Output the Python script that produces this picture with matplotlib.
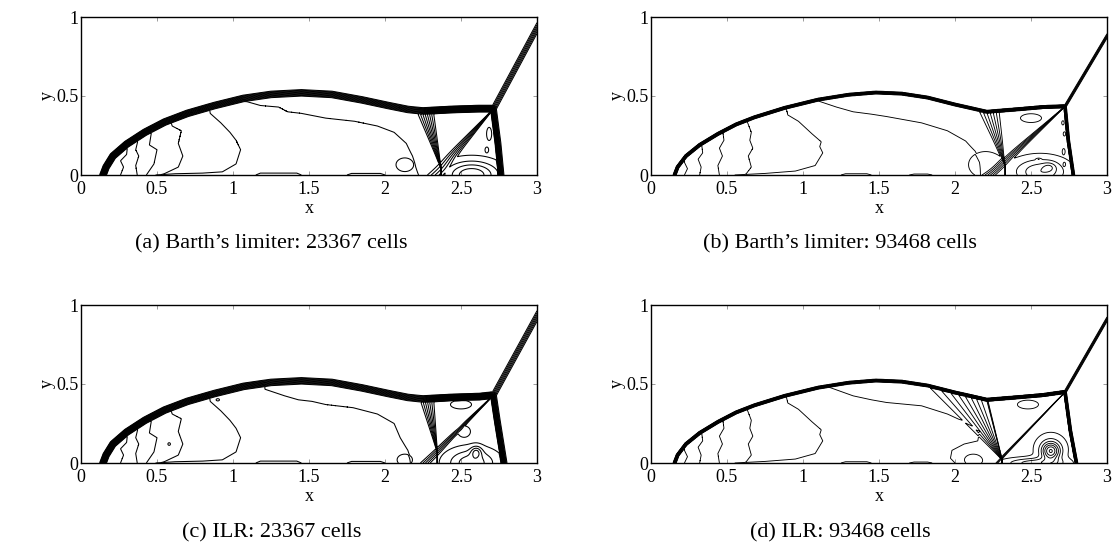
import numpy as np
import matplotlib
matplotlib.use("Agg")
import matplotlib.pyplot as plt
from matplotlib.path import Path

# ---------------- values ----------------
CAPTIONS = ["(a) Barth\u2019s limiter: 23367 cells", "(b) Barth\u2019s limiter: 93468 cells",
            "(c) ILR: 23367 cells", "(d) ILR: 93468 cells"]
X_TICKS = [0, 0.5, 1, 1.5, 2, 2.5, 3]
X_TICK_LABELS = ["0", "0.5", "1", "1.5", "2", "2.5", "3"]
Y_TICKS = [0, 0.5, 1]
Y_TICK_LABELS = ["0", "0.5", "1"]

# bow / reflected shock (from the wall up to just before the triple point)
BOW_COARSE_X = [0.145, 0.165, 0.21, 0.30, 0.42, 0.55, 0.70, 0.88, 1.07, 1.25, 1.45, 1.65, 1.85, 2.02, 2.15, 2.25, 2.45, 2.62]
BOW_COARSE_Y = [0.0, 0.05, 0.12, 0.195, 0.27, 0.335, 0.39, 0.44, 0.485, 0.51, 0.52, 0.51, 0.475, 0.44, 0.415, 0.405, 0.415, 0.42]
BOW_FINE_X = [0.155, 0.175, 0.23, 0.32, 0.44, 0.56, 0.68, 0.88, 1.10, 1.30, 1.48, 1.65, 1.82, 2.00, 2.12, 2.21, 2.40, 2.58]
BOW_FINE_Y = [0.0, 0.05, 0.12, 0.19, 0.26, 0.32, 0.365, 0.425, 0.477, 0.508, 0.522, 0.515, 0.49, 0.446, 0.42, 0.40, 0.415, 0.43]

# Mach stem foot -> stem middle -> triple point -> incident shock at x = 3
FRONT_A_X = [2.765, 2.745, 2.715, 3.0]
FRONT_A_Y = [0.0, 0.20, 0.42, 0.93]
FRONT_B_X = [2.78, 2.747, 2.725, 3.0]
FRONT_B_Y = [0.0, 0.215, 0.435, 0.88]
FRONT_C_X = [2.785, 2.74, 2.715, 3.0]
FRONT_C_Y = [0.0, 0.27, 0.43, 0.93]
FRONT_D_X = [2.80, 2.76, 2.725, 3.0]
FRONT_D_Y = [0.0, 0.205, 0.45, 0.91]

# contour lines near the bow-shock foot (wall -> bow)
LEFT_COARSE = [
    ([0.26, 0.28, 0.26, 0.30, 0.31], [0.0, 0.05, 0.09, 0.13, 0.22]),
    ([0.37, 0.36, 0.38, 0.36, 0.39], [0.0, 0.06, 0.12, 0.16, 0.28]),
    ([0.43, 0.48, 0.50, 0.45, 0.47], [0.0, 0.07, 0.16, 0.19, 0.31]),
    ([0.53, 0.64, 0.67, 0.64, 0.66, 0.60, 0.58], [0.0, 0.05, 0.12, 0.20, 0.28, 0.31, 0.37]),
    ([0.49, 0.62, 0.80, 0.93, 1.02, 1.05, 1.02, 0.98, 0.92, 0.85, 0.84],
     [0.0, 0.008, 0.012, 0.02, 0.07, 0.16, 0.22, 0.27, 0.33, 0.39, 0.47]),
]
LEFT_FINE = [
    ([0.22, 0.24, 0.22, 0.23], [0.0, 0.04, 0.08, 0.14]),
    ([0.32, 0.33, 0.31, 0.34, 0.33], [0.0, 0.05, 0.10, 0.14, 0.22]),
    ([0.45, 0.44, 0.47, 0.45, 0.48, 0.47], [0.0, 0.06, 0.12, 0.17, 0.22, 0.29]),
    ([0.62, 0.66, 0.64, 0.67, 0.65, 0.66, 0.62], [0.0, 0.05, 0.12, 0.17, 0.22, 0.27, 0.37]),
    ([0.55, 0.75, 0.95, 1.08, 1.13, 1.11, 1.12, 1.06, 0.97, 0.90, 0.88],
     [0.0, 0.01, 0.025, 0.06, 0.14, 0.18, 0.21, 0.26, 0.34, 0.38, 0.46]),
]

# long interior contour (bow -> wall)
LONG_A_X = [1.07, 1.07, 1.18, 1.30, 1.36, 1.45, 1.61, 1.80, 1.95, 2.06, 2.14, 2.18, 2.20, 2.22]
LONG_A_Y = [0.51, 0.47, 0.44, 0.43, 0.40, 0.39, 0.36, 0.34, 0.31, 0.27, 0.20, 0.12, 0.05, 0.0]
LONG_B_X = [1.10, 1.105, 1.22, 1.33, 1.45, 1.55, 1.78, 1.95, 2.07, 2.13, 2.16, 2.17]
LONG_B_Y = [0.51, 0.467, 0.43, 0.40, 0.385, 0.37, 0.33, 0.28, 0.215, 0.15, 0.08, 0.0]
LONG_C_X = [1.21, 1.21, 1.34, 1.43, 1.52, 1.61, 1.79, 1.95, 2.06, 2.10, 2.15, 2.17]
LONG_C_Y = [0.53, 0.467, 0.425, 0.40, 0.39, 0.37, 0.35, 0.31, 0.25, 0.16, 0.08, 0.0]
LONG_D_X = [1.15, 1.15, 1.33, 1.45, 1.55, 1.78, 1.95, 2.07, 2.16, 2.15, 2.06, 1.98, 1.97, 2.0]
LONG_D_Y = [0.53, 0.487, 0.425, 0.40, 0.383, 0.362, 0.31, 0.257, 0.20, 0.14, 0.12, 0.08, 0.03, 0.0]

# thin contours hugging the wall: start x, end x, height
WALL_COARSE = [(1.15, 1.45, 0.012), (1.75, 2.0, 0.01)]
WALL_FINE = [(1.25, 1.45, 0.008), (1.70, 1.85, 0.006)]

# fan of contours converging to the jet foot: focus x, focus y, angle 1, angle 2, count
FAN_A = (2.37, 0.04, 97, 115, 8)
FAN_B = (2.33, 0.06, 95, 118, 7)
FAN_C = (2.345, 0.065, 93, 110, 7)
FAN_D = (2.31, 0.02, 108, 138, 8)
# sharp second reflected shock (angle from focus, count); only resolved on the fine ILR mesh
RSHOCK_D = (104.5, 3)

# slip line leaving the triple point: lower end x, lower end y, count, angular spread (deg)
SLIP_A = (2.42, 0.10, 6, 9.0)
SLIP_B = (2.40, 0.15, 6, 6.0)
SLIP_C = (2.38, 0.11, 5, 5.0)
SLIP_D = (2.34, 0.065, 4, 1.5)

# closed loops (centre x, centre y, size x, size y, strength)
LOOPS_A = [(2.57, 0.0, 0.12, 0.06, 4.4), (2.13, 0.065, 0.04, 0.03, 1.4),
           (2.685, 0.26, 0.012, 0.03, 1.3), (2.67, 0.16, 0.008, 0.012, 1.2)]
LOOPS_B = [(2.56, 0.02, 0.12, 0.06, 3.4), (2.62, 0.05, 0.03, 0.02, 1.3), (2.2, 0.065, 0.08, 0.06, 1.3),
           (2.71, 0.33, 0.006, 0.01, 1.2), (2.72, 0.26, 0.006, 0.01, 1.2), (2.715, 0.15, 0.006, 0.012, 1.2),
           (2.72, 0.07, 0.006, 0.01, 1.2), (2.5, 0.36, 0.05, 0.02, 1.3), (2.55, 0.10, 0.01, 0.004, 1.2)]
LOOPS_C = [(2.57, 0.0, 0.11, 0.06, 3.3), (2.6, 0.07, 0.025, 0.025, 2.4), (2.52, 0.2, 0.03, 0.025, 1.3),
           (2.5, 0.37, 0.05, 0.02, 1.3), (2.13, 0.02, 0.035, 0.025, 1.4),
           (0.58, 0.12, 0.006, 0.006, 1.3), (0.9, 0.40, 0.008, 0.005, 1.3)]
LOOPS_D = [(2.63, 0.075, 0.04, 0.038, 5.3), (2.63, 0.09, 0.075, 0.07, 1.4), (2.52, 0.0, 0.13, 0.022, 3.0),
           (2.48, 0.37, 0.05, 0.02, 1.3), (2.12, 0.02, 0.04, 0.025, 1.4)]

# shock smearing: (bow width, front width, line width)
SMEAR_COARSE = (0.045, 0.04, 0.75)
SMEAR_FINE = (0.02, 0.018, 0.65)

POST_SHOCK = 6
INNER_BASE = 11
LEVELS = np.arange(0.5, 50.0, 1.0)

# ---------------- helpers ----------------
NX, NY = 1051, 351
gx = np.linspace(0.0, 3.0, NX)
gy = np.linspace(0.0, 1.0, NY)
GX, GY = np.meshgrid(gx, gy)
PTS = np.column_stack([GX.ravel(), GY.ravel()])


def polyline_distance(xs, ys):
    d2 = np.full(GX.shape, np.inf)
    for ax_, ay_, bx_, by_ in zip(xs[:-1], ys[:-1], xs[1:], ys[1:]):
        vx, vy = bx_ - ax_, by_ - ay_
        L2 = vx * vx + vy * vy
        if L2 == 0:
            continue
        t = np.clip(((GX - ax_) * vx + (GY - ay_) * vy) / L2, 0.0, 1.0)
        dx = GX - ax_ - t * vx
        dy = GY - ay_ - t * vy
        d2 = np.minimum(d2, dx * dx + dy * dy)
    return np.sqrt(d2)


def soft_region(xs, ys, width):
    xs = list(xs)
    ys = list(ys)
    d = polyline_distance(xs + [xs[0]], ys + [ys[0]])
    inside = Path(np.column_stack([xs, ys])).contains_points(PTS).reshape(GX.shape)
    sd = np.where(inside, d, -d)
    return np.clip(0.5 + sd / width, 0.0, 1.0)


def left_of_curve(cx, cy, width):
    xs = [cx[0]] + list(cx) + [cx[-1], -0.5, -0.5]
    ys = [-0.3] + list(cy) + [1.3, 1.3, -0.3]
    return soft_region(xs, ys, width)


def build_field(bow_x, bow_y, front_x, front_y, left_lines, long_x, long_y, walls,
                fan, rshock, slip, loops, smear):
    w_bow, w_front, _ = smear
    fx, fy = front_x, front_y
    tx, ty = fx[2], fy[2]
    slope = (fy[3] - ty) / (fx[3] - tx)
    top_x = fx[3] + (1.3 - fy[3]) / slope
    hf = soft_region([fx[0], fx[0], fx[1], tx, fx[3], top_x, -0.5, -0.5],
                     [-0.3, fy[0], fy[1], ty, fy[3], 1.3, 1.3, -0.3], w_front)
    hb = soft_region([bow_x[0]] + list(bow_x) + [tx, fx[1], fx[0], fx[0]],
                     [-0.3] + list(bow_y) + [ty, fy[1], fy[0], -0.3], w_bow)
    w_line = 0.008
    inner = np.full(GX.shape, float(INNER_BASE))
    for cx, cy in left_lines:
        inner += left_of_curve(cx, cy, w_line)
    inner += left_of_curve(long_x[::-1], long_y[::-1], w_line)
    for x0, x1, h in walls:
        inner += soft_region([x0, x0, x0 + 0.03, x1 - 0.03, x1, x1], [-0.3, 0.0, h, h, 0.0, -0.3], 0.004)
    px, py, t1, t2, nf = fan
    theta = np.degrees(np.arctan2(GY - py, GX - px))
    theta = np.where(theta < -90, theta + 360, theta)
    inner += nf * np.clip((t2 - theta) / (t2 - t1), 0.0, 1.0)
    if rshock is not None:
        trs, nrs = rshock
        inner += nrs * np.clip(0.5 + (trs - theta) / 1.5, 0.0, 1.0)
    sx1, sy1, ns, spread = slip
    phi_s = np.degrees(np.arctan2(sy1 - ty, sx1 - tx))
    phi = np.degrees(np.arctan2(GY - ty, GX - tx))
    dphi = (phi - phi_s + 180.0) % 360.0 - 180.0
    inner -= ns * np.clip(0.5 + dphi / spread, 0.0, 1.0)
    for cx, cy, sxx, syy, amp in loops:
        inner += amp * np.exp(-0.5 * (((GX - cx) / sxx) ** 2 + ((GY - cy) / syy) ** 2))
    return hf * (POST_SHOCK + hb * inner)


PANELS = [
    (BOW_COARSE_X, BOW_COARSE_Y, FRONT_A_X, FRONT_A_Y, LEFT_COARSE, LONG_A_X, LONG_A_Y, WALL_COARSE,
     FAN_A, None, SLIP_A, LOOPS_A, SMEAR_COARSE),
    (BOW_FINE_X, BOW_FINE_Y, FRONT_B_X, FRONT_B_Y, LEFT_FINE, LONG_B_X, LONG_B_Y, WALL_FINE,
     FAN_B, None, SLIP_B, LOOPS_B, SMEAR_FINE),
    (BOW_COARSE_X, BOW_COARSE_Y, FRONT_C_X, FRONT_C_Y, LEFT_COARSE, LONG_C_X, LONG_C_Y, WALL_COARSE,
     FAN_C, None, SLIP_C, LOOPS_C, SMEAR_COARSE),
    (BOW_FINE_X, BOW_FINE_Y, FRONT_D_X, FRONT_D_Y, LEFT_FINE, LONG_D_X, LONG_D_Y, WALL_FINE,
     FAN_D, RSHOCK_D, SLIP_D, LOOPS_D, SMEAR_FINE),
]

# ---------------- figure ----------------
W, H = 1116, 551
fig = plt.figure(figsize=(W / 100, H / 100), dpi=100)
SERIF = ["Liberation Serif", "DejaVu Serif"]

# axes boxes in pixels: left, top, right, bottom
BOXES = [(81, 17, 537, 175), (651, 17, 1107, 175), (81, 305, 537, 463), (651, 305, 1107, 463)]
CAPTION_POS = [(271, 244), (840, 244), (272, 533), (840, 533)]

for i, panel in enumerate(PANELS):
    l, t, r, b = BOXES[i]
    ax = fig.add_axes([l / W, 1 - b / H, (r - l) / W, (b - t) / H])
    field = build_field(*panel)
    ax.contour(GX, GY, field, levels=LEVELS, colors="k", linewidths=panel[-1][2])
    ax.set_xlim(0, 3)
    ax.set_ylim(0, 1)
    ax.set_xticks(X_TICKS)
    ax.set_xticklabels(X_TICK_LABELS, family=SERIF, fontsize=13)
    ax.set_yticks(Y_TICKS)
    ax.set_yticklabels(Y_TICK_LABELS, family=SERIF, fontsize=13)
    ax.tick_params(direction="in", length=3, width=0.6, color="0.55", top=True, right=True)
    ax.tick_params(axis="x", pad=4)
    ax.tick_params(axis="y", pad=2)
    ax.set_xlabel("x", family=SERIF, fontsize=13, labelpad=2)
    ax.set_ylabel("y", family=SERIF, fontsize=13, labelpad=0)
    for s in ax.spines.values():
        s.set_linewidth(1.0)
        s.set_color("k")
    cx, cy = CAPTION_POS[i]
    fig.text(cx / W, 1 - cy / H, CAPTIONS[i], ha="center", va="center", family=SERIF, fontsize=16)

fig.savefig("out.png", dpi=100)
